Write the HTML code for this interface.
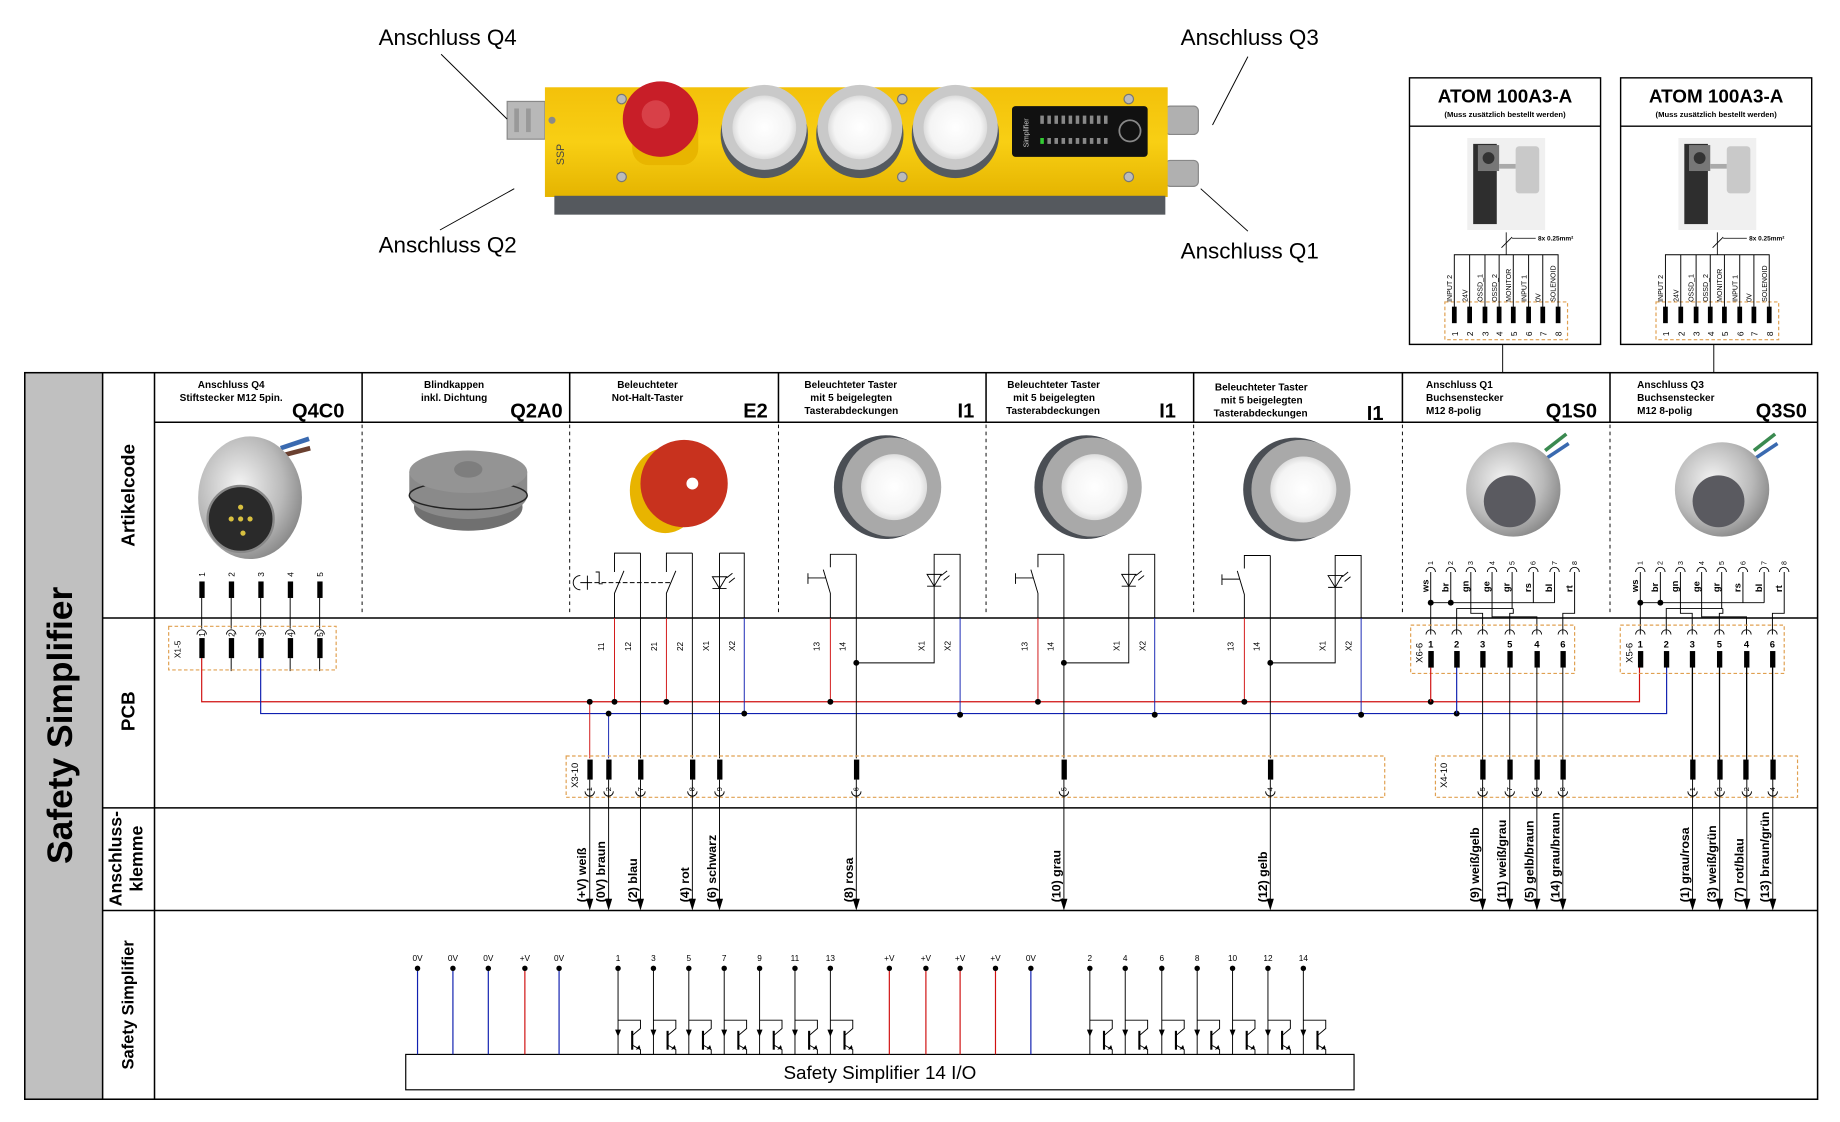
<!DOCTYPE html>
<html><head><meta charset="utf-8"><style>
html,body{margin:0;padding:0;background:#fff;}
svg{display:block;}
text{font-family:"Liberation Sans",sans-serif;}
.b{font-weight:bold;}
</style></head><body>
<svg width="1840" height="1122" viewBox="0 0 1560 951.3" preserveAspectRatio="none" xmlns="http://www.w3.org/2000/svg">
<defs>
<linearGradient id="yg" x1="0" y1="0" x2="0" y2="1"><stop offset="0" stop-color="#f3c10a"/><stop offset="0.5" stop-color="#f8cf14"/><stop offset="1" stop-color="#e5b400"/></linearGradient>
<radialGradient id="sil" cx="0.4" cy="0.4" r="0.7"><stop offset="0" stop-color="#f4f4f4"/><stop offset="0.6" stop-color="#b9b9b9"/><stop offset="1" stop-color="#7d7d7d"/></radialGradient>
<radialGradient id="wh" cx="0.5" cy="0.5" r="0.5"><stop offset="0" stop-color="#fff"/><stop offset="0.8" stop-color="#f4f4f4"/><stop offset="1" stop-color="#dcdcdc"/></radialGradient>
</defs>
<rect width="1560" height="951.3" fill="#fff"/>

<!-- ===== TOP DEVICE ===== -->
<g>
<rect x="430" y="86" width="32" height="32" fill="#b8b8b8" stroke="#888" stroke-width="1"/>
<rect x="436" y="92" width="4" height="20" fill="#999"/><rect x="446" y="92" width="4" height="20" fill="#999"/>
<rect x="988" y="90" width="28" height="24" rx="4" fill="#b0b0b0" stroke="#888"/>
<rect x="988" y="136" width="28" height="22" rx="4" fill="#b0b0b0" stroke="#888"/>
<rect x="462" y="74" width="528" height="93" fill="url(#yg)"/>
<rect x="470" y="166" width="518" height="16" fill="#55595e"/>
<circle cx="468" cy="102" r="3" fill="#8a8a8a"/>
<text x="478" y="140" font-size="9" fill="#444" transform="rotate(-90 478 140)">SSP</text>
<circle cx="527" cy="84" r="4" fill="#bbb" stroke="#777"/><circle cx="527" cy="150" r="4" fill="#bbb" stroke="#777"/>
<circle cx="765" cy="84" r="4" fill="#bbb" stroke="#777"/><circle cx="765" cy="150" r="4" fill="#bbb" stroke="#777"/>
<circle cx="957" cy="84" r="4" fill="#bbb" stroke="#777"/><circle cx="957" cy="150" r="4" fill="#bbb" stroke="#777"/>
<rect x="536" y="96" width="56" height="44" rx="14" fill="#e8b500"/>
<circle cx="560" cy="101" r="32" fill="#c81e28"/>
<circle cx="556" cy="97" r="12" fill="#d84048"/>
<g>
<circle cx="648" cy="114" r="37" fill="#555a60"/><circle cx="648" cy="108" r="36" fill="#c9c9c9"/><circle cx="648" cy="108" r="27" fill="url(#wh)"/>
<circle cx="729" cy="114" r="37" fill="#555a60"/><circle cx="729" cy="108" r="36" fill="#c9c9c9"/><circle cx="729" cy="108" r="27" fill="url(#wh)"/>
<circle cx="810" cy="114" r="37" fill="#555a60"/><circle cx="810" cy="108" r="36" fill="#c9c9c9"/><circle cx="810" cy="108" r="27" fill="url(#wh)"/>
</g>
<rect x="858" y="90" width="115" height="43" rx="3" fill="#111"/>
<g fill="#888">
<rect x="882" y="98" width="3" height="7"/><rect x="888" y="98" width="3" height="7"/><rect x="894" y="98" width="3" height="7"/><rect x="900" y="98" width="3" height="7"/><rect x="906" y="98" width="3" height="7"/><rect x="912" y="98" width="3" height="7"/><rect x="918" y="98" width="3" height="7"/><rect x="924" y="98" width="3" height="7"/><rect x="930" y="98" width="3" height="7"/><rect x="936" y="98" width="3" height="7"/>
<rect x="882" y="117" width="3" height="5" fill="#3c3"/><rect x="888" y="117" width="3" height="5"/><rect x="894" y="117" width="3" height="5"/><rect x="900" y="117" width="3" height="5"/><rect x="906" y="117" width="3" height="5"/><rect x="912" y="117" width="3" height="5"/><rect x="918" y="117" width="3" height="5"/><rect x="924" y="117" width="3" height="5"/><rect x="930" y="117" width="3" height="5"/><rect x="936" y="117" width="3" height="5"/>
</g>
<circle cx="958" cy="111" r="9" fill="none" stroke="#888" stroke-width="1.5"/>
<text x="872" y="125" font-size="6" fill="#ccc" transform="rotate(-90 872 125)">Simplifier</text>
</g>
<text x="321" y="38" font-size="19">Anschluss Q4</text>
<text x="321" y="214" font-size="19">Anschluss Q2</text>
<text x="1001" y="38" font-size="19">Anschluss Q3</text>
<text x="1001" y="219" font-size="19">Anschluss Q1</text>
<g stroke="#000" stroke-width="0.8">
<line x1="374" y1="46" x2="430" y2="101"/>
<line x1="373" y1="195" x2="436" y2="160"/>
<line x1="1058" y1="48" x2="1028" y2="106"/>
<line x1="1058" y1="196" x2="1018" y2="160"/>
</g>

<!-- ===== ATOM BOXES ===== -->
<g transform="translate(-5,0)">
<g id="atom1">
<rect x="1200" y="66" width="162" height="226" fill="#fff" stroke="#000" stroke-width="1.2"/>
<line x1="1200" y1="107" x2="1362" y2="107" stroke="#000" stroke-width="1.2"/>
<text x="1281" y="87" font-size="16" class="b" text-anchor="middle">ATOM 100A3-A</text>
<text x="1281" y="99" font-size="6.5" class="b" text-anchor="middle">(Muss zusätzlich bestellt werden)</text>
<rect x="1249" y="117" width="66" height="78" fill="#f0f0f0"/>
<rect x="1254" y="122" width="20" height="68" fill="#2e2e2e"/><rect x="1258" y="123" width="18" height="22" fill="#777"/><circle cx="1267" cy="134" r="5" fill="#333"/>
<rect x="1290" y="124" width="20" height="40" rx="3" fill="#c9c9c9"/><rect x="1276" y="139" width="14" height="4" fill="#aaa"/>
<line x1="1278" y1="210" x2="1287" y2="201" stroke="#000" stroke-width="0.7"/>
<line x1="1282" y1="197" x2="1282" y2="216" stroke="#000" stroke-width="0.7"/>
<line x1="1287" y1="202" x2="1307" y2="202" stroke="#000" stroke-width="0.7"/>
<text x="1309" y="204" font-size="5.5" class="b">8x 0.25mm²</text>
<rect x="1230" y="256" width="104" height="32" fill="none" stroke="#e0a050" stroke-width="1" stroke-dasharray="3,2"/>
<polyline points="1238,262 1238,216 1326,216 1326,262" fill="none" stroke="#000" stroke-width="0.8"/>
<g stroke="#000" stroke-width="0.8">
<line x1="1251" y1="216" x2="1251" y2="262"/><line x1="1264" y1="216" x2="1264" y2="262"/><line x1="1276" y1="216" x2="1276" y2="262"/><line x1="1288" y1="216" x2="1288" y2="262"/><line x1="1301" y1="216" x2="1301" y2="262"/><line x1="1313" y1="216" x2="1313" y2="262"/>
</g>
<g fill="#000"><rect x="1236" y="260" width="4" height="14"/><rect x="1249" y="260" width="4" height="14"/><rect x="1262" y="260" width="4" height="14"/><rect x="1274" y="260" width="4" height="14"/><rect x="1286" y="260" width="4" height="14"/><rect x="1299" y="260" width="4" height="14"/><rect x="1311" y="260" width="4" height="14"/><rect x="1324" y="260" width="4" height="14"/></g>
<g font-size="6">
<text transform="translate(1236,256) rotate(-90)">INPUT 2</text><text transform="translate(1249,256) rotate(-90)">24V</text><text transform="translate(1262,256) rotate(-90)">OSSD_1</text><text transform="translate(1274,256) rotate(-90)">OSSD_2</text><text transform="translate(1286,256) rotate(-90)">MONITOR</text><text transform="translate(1299,256) rotate(-90)">INPUT 1</text><text transform="translate(1311,256) rotate(-90)">0V</text><text transform="translate(1324,256) rotate(-90)">SOLENOID</text>
</g>
<g font-size="7"><text transform="translate(1241,285) rotate(-90)">1</text><text transform="translate(1254,285) rotate(-90)">2</text><text transform="translate(1267,285) rotate(-90)">3</text><text transform="translate(1279,285) rotate(-90)">4</text><text transform="translate(1291,285) rotate(-90)">5</text><text transform="translate(1304,285) rotate(-90)">6</text><text transform="translate(1316,285) rotate(-90)">7</text><text transform="translate(1329,285) rotate(-90)">8</text></g>
<line x1="1279" y1="292" x2="1279" y2="316" stroke="#000" stroke-width="0.8"/>
</g>
<use href="#atom1" x="179" y="0"/>
</g>

<!-- ===== MAIN FRAME ===== -->
<rect x="21" y="316" width="66" height="616" fill="#c0c0c0"/>
<rect x="21" y="316" width="1520" height="616" fill="none" stroke="#000" stroke-width="1.3"/>
<g stroke="#000" stroke-width="1.3">
<line x1="87" y1="316" x2="87" y2="932"/>
<line x1="131" y1="316" x2="131" y2="932"/>
<line x1="131" y1="358" x2="1541" y2="358"/>
<line x1="87" y1="524" x2="1541" y2="524"/>
<line x1="87" y1="685" x2="1541" y2="685"/>
<line x1="87" y1="772" x2="1541" y2="772"/>
<line x1="307" y1="316" x2="307" y2="358"/><line x1="483" y1="316" x2="483" y2="358"/><line x1="660" y1="316" x2="660" y2="358"/><line x1="836" y1="316" x2="836" y2="358"/><line x1="1012" y1="316" x2="1012" y2="358"/><line x1="1189" y1="316" x2="1189" y2="358"/><line x1="1365" y1="316" x2="1365" y2="358"/>
</g>
<g stroke="#000" stroke-width="0.8" stroke-dasharray="3,3">
<line x1="307" y1="360" x2="307" y2="522"/><line x1="483" y1="360" x2="483" y2="522"/><line x1="660" y1="360" x2="660" y2="522"/><line x1="836" y1="360" x2="836" y2="522"/><line x1="1012" y1="360" x2="1012" y2="522"/><line x1="1189" y1="360" x2="1189" y2="522"/><line x1="1365" y1="360" x2="1365" y2="522"/>
</g>
<text transform="translate(61,615) rotate(-90)" font-size="30" class="b" text-anchor="middle">Safety Simplifier</text>
<text transform="translate(114,420) rotate(-90)" font-size="16" class="b" text-anchor="middle">Artikelcode</text>
<text transform="translate(114,603) rotate(-90)" font-size="16" class="b" text-anchor="middle">PCB</text>
<text transform="translate(103,728) rotate(-90)" font-size="15" class="b" text-anchor="middle">Anschluss-</text>
<text transform="translate(121,728) rotate(-90)" font-size="15" class="b" text-anchor="middle">klemme</text>
<text transform="translate(113,852) rotate(-90)" font-size="14" class="b" text-anchor="middle">Safety Simplifier</text>

<!-- headers -->
<g font-size="8.5" class="b">
<text x="196" y="329" text-anchor="middle">Anschluss Q4</text>
<text x="196" y="340" text-anchor="middle">Stiftstecker M12 5pin.</text>
<text x="385" y="329" text-anchor="middle">Blindkappen</text>
<text x="385" y="340" text-anchor="middle">inkl. Dichtung</text>
<text x="549" y="329" text-anchor="middle">Beleuchteter</text>
<text x="549" y="340" text-anchor="middle">Not-Halt-Taster</text>
<text x="682" y="329">Beleuchteter Taster</text><text x="687" y="340">mit 5 beigelegten</text><text x="682" y="351">Tasterabdeckungen</text>
<text x="854" y="329">Beleuchteter Taster</text><text x="859" y="340">mit 5 beigelegten</text><text x="853" y="351">Tasterabdeckungen</text>
<text x="1030" y="331">Beleuchteter Taster</text><text x="1035" y="342">mit 5 beigelegten</text><text x="1029" y="353">Tasterabdeckungen</text>
<text x="1209" y="329">Anschluss Q1</text><text x="1209" y="340">Buchsenstecker</text><text x="1209" y="351">M12 8-polig</text>
<text x="1388" y="329">Anschluss Q3</text><text x="1388" y="340">Buchsenstecker</text><text x="1388" y="351">M12 8-polig</text>
</g>
<g font-size="17" class="b" text-anchor="end">
<text x="292" y="354">Q4C0</text><text x="477" y="354">Q2A0</text><text x="651" y="354">E2</text>
<text x="826" y="354">I1</text><text x="997" y="354">I1</text><text x="1173" y="356">I1</text>
<text x="1354" y="354">Q1S0</text><text x="1532" y="354">Q3S0</text>
</g>

<!-- article images -->
<g>
<path d="M238,380 L262,372" stroke="#3a6ab0" stroke-width="4"/><path d="M240,386 L263,380" stroke="#6a4030" stroke-width="4"/>
<ellipse cx="212" cy="422" rx="44" ry="52" fill="url(#sil)"/>
<circle cx="204" cy="440" r="28" fill="#2a2a2a" stroke="#888" stroke-width="2"/>
<g fill="#d8c040"><circle cx="204" cy="430" r="2.2"/><circle cx="196" cy="440" r="2.2"/><circle cx="204" cy="440" r="2.2"/><circle cx="212" cy="440" r="2.2"/><circle cx="206" cy="452" r="2.2"/></g>
</g>
<g>
<ellipse cx="397" cy="430" rx="46" ry="20" fill="#707070"/>
<ellipse cx="397" cy="420" rx="50" ry="20" fill="#8a8a8a"/>
<rect x="347" y="400" width="100" height="20" fill="#8a8a8a"/>
<ellipse cx="397" cy="420" rx="50" ry="12" fill="none" stroke="#222" stroke-width="1.2"/>
<ellipse cx="397" cy="400" rx="50" ry="18" fill="#949494"/>
<ellipse cx="397" cy="398" rx="12" ry="7" fill="#7e7e7e"/>
</g>
<g>
<ellipse cx="564" cy="416" rx="30" ry="36" fill="#e8b400"/>
<circle cx="580" cy="410" r="37" fill="#c8321e"/>
<circle cx="587" cy="410" r="5" fill="#fff"/>
</g>
<g>
<circle cx="751" cy="413" r="44" fill="#4a4e54"/><circle cx="756" cy="413" r="42" fill="#a9a9a9"/><circle cx="758" cy="413" r="28" fill="url(#wh)"/>
<circle cx="921" cy="413" r="44" fill="#4a4e54"/><circle cx="926" cy="413" r="42" fill="#a9a9a9"/><circle cx="928" cy="413" r="28" fill="url(#wh)"/>
<circle cx="1098" cy="415" r="44" fill="#4a4e54"/><circle cx="1103" cy="415" r="42" fill="#a9a9a9"/><circle cx="1105" cy="415" r="28" fill="url(#wh)"/>
</g>
<g>
<path d="M1310,382 L1328,368" stroke="#3a8a50" stroke-width="3"/><path d="M1312,388 L1330,376" stroke="#3a6ab0" stroke-width="3"/>
<circle cx="1283" cy="415" r="40" fill="url(#sil)"/><circle cx="1280" cy="425" r="22" fill="#5a5a60"/>
<path d="M1487,382 L1505,368" stroke="#3a8a50" stroke-width="3"/><path d="M1489,388 L1507,376" stroke="#3a6ab0" stroke-width="3"/>
<circle cx="1460" cy="415" r="40" fill="url(#sil)"/><circle cx="1457" cy="425" r="22" fill="#5a5a60"/>
</g>

<!-- ===== COLUMN 1 pins ===== -->
<g stroke="#000" stroke-width="0.8" fill="none">
<line x1="171" y1="507" x2="171" y2="533"/><line x1="196" y1="507" x2="196" y2="533"/><line x1="221" y1="507" x2="221" y2="533"/><line x1="246" y1="507" x2="246" y2="533"/><line x1="271" y1="507" x2="271" y2="533"/>
<line x1="196" y1="558" x2="196" y2="569"/><line x1="246" y1="558" x2="246" y2="569"/><line x1="271" y1="558" x2="271" y2="569"/>
<path d="M167,538 A4,4 0 0 1 175,538 M192,538 A4,4 0 0 1 200,538 M217,538 A4,4 0 0 1 225,538 M242,538 A4,4 0 0 1 250,538 M267,538 A4,4 0 0 1 275,538"/>
</g>
<g fill="#000"><rect x="169" y="493" width="4.5" height="14"/><rect x="194" y="493" width="4.5" height="14"/><rect x="219" y="493" width="4.5" height="14"/><rect x="244" y="493" width="4.5" height="14"/><rect x="269" y="493" width="4.5" height="14"/>
<rect x="169" y="541" width="4.5" height="17"/><rect x="194" y="541" width="4.5" height="17"/><rect x="219" y="541" width="4.5" height="17"/><rect x="244" y="541" width="4.5" height="17"/><rect x="269" y="541" width="4.5" height="17"/></g>
<g font-size="7"><text transform="translate(174,489) rotate(-90)">1</text><text transform="translate(199,489) rotate(-90)">2</text><text transform="translate(224,489) rotate(-90)">3</text><text transform="translate(249,489) rotate(-90)">4</text><text transform="translate(274,489) rotate(-90)">5</text>
<text transform="translate(174,540) rotate(-90)">1</text><text transform="translate(199,540) rotate(-90)">2</text><text transform="translate(224,540) rotate(-90)">3</text><text transform="translate(249,540) rotate(-90)">4</text><text transform="translate(274,540) rotate(-90)">5</text>
<text transform="translate(153,558) rotate(-90)">X1-5</text></g>
<rect x="143" y="531" width="142" height="37" fill="none" stroke="#e0a050" stroke-dasharray="3,2"/>

<!-- red/blue buses -->
<path d="M171,558 V595 H1390 V565" fill="none" stroke="#d01010" stroke-width="1"/>
<path d="M221,558 V605 H1413 V565" fill="none" stroke="#1020b0" stroke-width="1"/>

<!-- ===== E2 column ===== -->
<g fill="none" stroke-width="0.8">
<path d="M543,469 H521 V485 M529,484 L521,503 V524" stroke="#000"/>
<path d="M587,469 H565 V485 M573,484 L565,503 V524" stroke="#000"/>
<path d="M543,469 V643 M587,469 V643" stroke="#000"/>
<path d="M610,469 H631 V524 M610,469 V643" stroke="#000"/>
<path d="M521,524 V595 M565,524 V595 M500,595 V643" stroke="#d01010"/>
<path d="M631,524 V605 M516,605 V643" stroke="#1020b0"/>
<path d="M498,494 H570" stroke="#000" stroke-dasharray="4,2"/>
<path d="M492,488 A6,6 0 0 0 492,500 M492,494 H498 M498,488 V500" stroke="#000"/>
<path d="M505,485 h3 v10 h3" stroke="#000"/>
<path d="M604,489 H616 L610,499 Z M604,499 H616 M616,490 l5,-4 M618,494 l5,-4" stroke="#000"/>
</g>
<g font-size="7"><text transform="translate(512,552) rotate(-90)">11</text><text transform="translate(535,552) rotate(-90)">12</text><text transform="translate(557,552) rotate(-90)">21</text><text transform="translate(579,552) rotate(-90)">22</text><text transform="translate(601,552) rotate(-90)">X1</text><text transform="translate(623,552) rotate(-90)">X2</text></g>

<!-- ===== I1 columns ===== -->
<g fill="none" stroke-width="0.8">
<path d="M726,470 H704 V481 M698,483 L704,503 V524 M685,486 V495 M685,490 H700" stroke="#000"/>
<path d="M726,470 V643 M726,562 H792 V470 H814 V524" stroke="#000"/>
<path d="M786,487 H798 L792,497 Z M786,497 H798 M798,488 l5,-4 M800,492 l5,-4" stroke="#000"/>
<path d="M704,524 V595" stroke="#d01010"/><path d="M814,524 V606" stroke="#1020b0"/>

<path d="M902,470 H880 V481 M874,483 L880,503 V524 M861,486 V495 M861,490 H876" stroke="#000"/>
<path d="M902,470 V643 M902,562 H957 V470 H979 V524" stroke="#000"/>
<path d="M951,487 H963 L957,497 Z M951,497 H963 M963,488 l5,-4 M965,492 l5,-4" stroke="#000"/>
<path d="M880,524 V595" stroke="#d01010"/><path d="M979,524 V606" stroke="#1020b0"/>

<path d="M1077,471 H1055 V482 M1049,484 L1055,504 V524 M1036,487 V496 M1036,491 H1051" stroke="#000"/>
<path d="M1077,471 V643 M1077,562 H1132 V471 H1154 V524" stroke="#000"/>
<path d="M1126,488 H1138 L1132,498 Z M1126,498 H1138 M1138,489 l5,-4 M1140,493 l5,-4" stroke="#000"/>
<path d="M1055,524 V595" stroke="#d01010"/><path d="M1154,524 V606" stroke="#1020b0"/>
</g>
<g font-size="7">
<text transform="translate(695,552) rotate(-90)">13</text><text transform="translate(717,552) rotate(-90)">14</text><text transform="translate(784,552) rotate(-90)">X1</text><text transform="translate(806,552) rotate(-90)">X2</text>
<text transform="translate(871,552) rotate(-90)">13</text><text transform="translate(893,552) rotate(-90)">14</text><text transform="translate(949,552) rotate(-90)">X1</text><text transform="translate(971,552) rotate(-90)">X2</text>
<text transform="translate(1046,552) rotate(-90)">13</text><text transform="translate(1068,552) rotate(-90)">14</text><text transform="translate(1124,552) rotate(-90)">X1</text><text transform="translate(1146,552) rotate(-90)">X2</text>
</g>

<!-- ===== Right M12 female columns ===== -->
<g id="m12">
<g fill="none" stroke="#000" stroke-width="0.8">
<path d="M1209,485 A4,4 0 0 1 1217,485 M1226,485 A4,4 0 0 1 1234,485 M1243,485 A4,4 0 0 1 1251,485 M1261,485 A4,4 0 0 1 1269,485 M1278,485 A4,4 0 0 1 1286,485 M1296,485 A4,4 0 0 1 1304,485 M1314,485 A4,4 0 0 1 1322,485 M1331,485 A4,4 0 0 1 1339,485"/>
<path d="M1213,485 V538"/>
<path d="M1230,485 V511 M1213,511 H1318 M1300,485 V511 M1318,485 V511"/>
<path d="M1247,485 V520 H1257 V538"/>
<path d="M1235,538 V516 H1283"/>
<path d="M1265,485 V523 H1303 V538"/>
<path d="M1282,485 V516 M1283,516 V520 H1280 V538"/>
<path d="M1335,485 V520 H1325 V538"/>
<path d="M1209,538 A4,4 0 0 1 1217,538 M1231,538 A4,4 0 0 1 1239,538 M1253,538 A4,4 0 0 1 1261,538 M1276,538 A4,4 0 0 1 1284,538 M1299,538 A4,4 0 0 1 1307,538 M1321,538 A4,4 0 0 1 1329,538"/>
</g>
<g fill="#000"><circle cx="1213" cy="511" r="2.5"/><circle cx="1230" cy="511" r="2.5"/>
<rect x="1211" y="552" width="4.5" height="14"/><rect x="1233" y="552" width="4.5" height="14"/><rect x="1255" y="552" width="4.5" height="14"/><rect x="1278" y="552" width="4.5" height="14"/><rect x="1301" y="552" width="4.5" height="14"/><rect x="1323" y="552" width="4.5" height="14"/></g>
<g font-size="6"><text transform="translate(1215,479) rotate(-90)">1</text><text transform="translate(1232,479) rotate(-90)">2</text><text transform="translate(1249,479) rotate(-90)">3</text><text transform="translate(1267,479) rotate(-90)">4</text><text transform="translate(1284,479) rotate(-90)">5</text><text transform="translate(1302,479) rotate(-90)">6</text><text transform="translate(1320,479) rotate(-90)">7</text><text transform="translate(1337,479) rotate(-90)">8</text></g>
<g font-size="8" class="b"><text transform="translate(1211,502) rotate(-90)">ws</text><text transform="translate(1228,502) rotate(-90)">br</text><text transform="translate(1245,502) rotate(-90)">gn</text><text transform="translate(1263,502) rotate(-90)">ge</text><text transform="translate(1280,502) rotate(-90)">gr</text><text transform="translate(1298,502) rotate(-90)">rs</text><text transform="translate(1316,502) rotate(-90)">bl</text><text transform="translate(1333,502) rotate(-90)">rt</text></g>
<g font-size="8" class="b" text-anchor="middle"><text x="1213" y="549">1</text><text x="1235" y="549">2</text><text x="1257" y="549">3</text><text x="1280" y="549">5</text><text x="1303" y="549">4</text><text x="1325" y="549">6</text></g>
<rect x="1196" y="530" width="139" height="41" fill="none" stroke="#e0a050" stroke-dasharray="3,2"/>
<line x1="1257" y1="566" x2="1257" y2="644" stroke="#000" stroke-width="0.8"/><line x1="1280" y1="566" x2="1280" y2="644" stroke="#000" stroke-width="0.8"/><line x1="1303" y1="566" x2="1303" y2="644" stroke="#000" stroke-width="0.8"/><line x1="1325" y1="566" x2="1325" y2="644" stroke="#000" stroke-width="0.8"/>
</g>
<text transform="translate(1206,562) rotate(-90)" font-size="8">X6-6</text>
<use href="#m12" x="177.7" y="0"/>
<text transform="translate(1384,562) rotate(-90)" font-size="8">X5-6</text>
<circle cx="1213" cy="595" r="2.5"/><circle cx="1235" cy="605" r="2.5"/>
<path d="M1213,566 V595" stroke="#d01010" stroke-width="1"/>
<path d="M1235,566 V605" stroke="#1020b0" stroke-width="1"/>
<rect x="1211" y="552" width="4.5" height="14"/><rect x="1233" y="552" width="4.5" height="14"/>

<!-- junction dots -->
<g fill="#000">
<circle cx="500" cy="595" r="2.5"/><circle cx="521" cy="595" r="2.5"/><circle cx="565" cy="595" r="2.5"/><circle cx="516" cy="605" r="2.5"/><circle cx="631" cy="605" r="2.5"/>
<circle cx="726" cy="562" r="2.5"/><circle cx="704" cy="595" r="2.5"/><circle cx="814" cy="606" r="2.5"/>
<circle cx="902" cy="562" r="2.5"/><circle cx="880" cy="595" r="2.5"/><circle cx="979" cy="606" r="2.5"/>
<circle cx="1077" cy="562" r="2.5"/><circle cx="1055" cy="595" r="2.5"/><circle cx="1154" cy="606" r="2.5"/>
</g>

<!-- X3 / X4 terminal strips -->
<rect x="480" y="641" width="694" height="35" fill="none" stroke="#e0a050" stroke-dasharray="3,2"/>
<rect x="1217" y="641" width="307" height="35" fill="none" stroke="#e0a050" stroke-dasharray="3,2"/>
<text transform="translate(490,668) rotate(-90)" font-size="8">X3-10</text>
<text transform="translate(1227,668) rotate(-90)" font-size="8">X4-10</text>
<g fill="#000">
<rect x="498" y="644" width="4.5" height="17"/><rect x="514" y="644" width="4.5" height="17"/><rect x="541" y="644" width="4.5" height="17"/><rect x="585" y="644" width="4.5" height="17"/><rect x="608" y="644" width="4.5" height="17"/>
<rect x="724" y="644" width="4.5" height="17"/><rect x="900" y="644" width="4.5" height="17"/><rect x="1075" y="644" width="4.5" height="17"/>
<rect x="1255" y="644" width="4.5" height="17"/><rect x="1278" y="644" width="4.5" height="17"/><rect x="1301" y="644" width="4.5" height="17"/><rect x="1323" y="644" width="4.5" height="17"/>
<rect x="1433" y="644" width="4.5" height="17"/><rect x="1456" y="644" width="4.5" height="17"/><rect x="1478" y="644" width="4.5" height="17"/><rect x="1501" y="644" width="4.5" height="17"/>
</g>
<g fill="none" stroke="#000" stroke-width="0.8">
<path d="M500,661V768 M516,661V768 M543,661V768 M587,661V768 M610,661V768 M726,661V768 M902,661V768 M1077,661V768 M1257,661V768 M1280,661V768 M1303,661V768 M1325,661V768 M1435,566V768 M1458,566V768 M1481,566V768 M1503,566V768"/>
<path d="M496,671 A4,4 0 0 0 504,671 M512,671 A4,4 0 0 0 520,671 M539,671 A4,4 0 0 0 547,671 M583,671 A4,4 0 0 0 591,671 M606,671 A4,4 0 0 0 614,671 M722,671 A4,4 0 0 0 730,671 M898,671 A4,4 0 0 0 906,671 M1073,671 A4,4 0 0 0 1081,671 M1253,671 A4,4 0 0 0 1261,671 M1276,671 A4,4 0 0 0 1284,671 M1299,671 A4,4 0 0 0 1307,671 M1321,671 A4,4 0 0 0 1329,671 M1431,671 A4,4 0 0 0 1439,671 M1454,671 A4,4 0 0 0 1462,671 M1477,671 A4,4 0 0 0 1485,671 M1499,671 A4,4 0 0 0 1507,671"/>
</g>
<g font-size="6.5">
<text transform="translate(502,671) rotate(-90)">1</text><text transform="translate(518,671) rotate(-90)">2</text><text transform="translate(545,671) rotate(-90)">7</text><text transform="translate(589,671) rotate(-90)">8</text><text transform="translate(612,671) rotate(-90)">9</text>
<text transform="translate(728,671) rotate(-90)">6</text><text transform="translate(904,671) rotate(-90)">5</text><text transform="translate(1079,671) rotate(-90)">4</text>
<text transform="translate(1259,671) rotate(-90)">5</text><text transform="translate(1282,671) rotate(-90)">7</text><text transform="translate(1305,671) rotate(-90)">6</text><text transform="translate(1327,671) rotate(-90)">8</text>
<text transform="translate(1437,671) rotate(-90)">1</text><text transform="translate(1460,671) rotate(-90)">3</text><text transform="translate(1483,671) rotate(-90)">2</text><text transform="translate(1505,671) rotate(-90)">4</text>
</g>

<!-- arrows + wire labels -->
<g fill="#000">
<path d="M497,762h6l-3,10z M513,762h6l-3,10z M540,762h6l-3,10z M584,762h6l-3,10z M607,762h6l-3,10z M723,762h6l-3,10z M899,762h6l-3,10z M1074,762h6l-3,10z M1254,762h6l-3,10z M1277,762h6l-3,10z M1300,762h6l-3,10z M1322,762h6l-3,10z M1432,762h6l-3,10z M1455,762h6l-3,10z M1478,762h6l-3,10z M1500,762h6l-3,10z"/>
</g>
<g font-size="10.5" class="b">
<text transform="translate(497,765) rotate(-90)">(+V) weiß</text>
<text transform="translate(513,765) rotate(-90)">(0V) braun</text>
<text transform="translate(540,765) rotate(-90)">(2) blau</text>
<text transform="translate(584,765) rotate(-90)">(4) rot</text>
<text transform="translate(607,765) rotate(-90)">(6) schwarz</text>
<text transform="translate(723,765) rotate(-90)">(8) rosa</text>
<text transform="translate(899,765) rotate(-90)">(10) grau</text>
<text transform="translate(1074,765) rotate(-90)">(12) gelb</text>
<text transform="translate(1254,765) rotate(-90)">(9) weiß/gelb</text>
<text transform="translate(1277,765) rotate(-90)">(11) weiß/grau</text>
<text transform="translate(1300,765) rotate(-90)">(5) gelb/braun</text>
<text transform="translate(1322,765) rotate(-90)">(14) grau/braun</text>
<text transform="translate(1432,765) rotate(-90)">(1)  grau/rosa</text>
<text transform="translate(1455,765) rotate(-90)">(3) weiß/grün</text>
<text transform="translate(1478,765) rotate(-90)">(7) rot/blau</text>
<text transform="translate(1500,765) rotate(-90)">(13) braun/grün</text>
</g>

<!-- ===== Safety Simplifier 14 I/O ===== -->
<rect x="344" y="894" width="804" height="30" fill="#fff" stroke="#000" stroke-width="1"/>
<text x="746" y="915" font-size="16" text-anchor="middle">Safety Simplifier 14 I/O</text>
<g font-size="7" text-anchor="middle">
<text x="354" y="815">0V</text><text x="384" y="815">0V</text><text x="414" y="815">0V</text><text x="445" y="815">+V</text><text x="474" y="815">0V</text>
<text x="524" y="815">1</text><text x="554" y="815">3</text><text x="584" y="815">5</text><text x="614" y="815">7</text><text x="644" y="815">9</text><text x="674" y="815">11</text><text x="704" y="815">13</text>
<text x="754" y="815">+V</text><text x="785" y="815">+V</text><text x="814" y="815">+V</text><text x="844" y="815">+V</text><text x="874" y="815">0V</text>
<text x="924" y="815">2</text><text x="954" y="815">4</text><text x="985" y="815">6</text><text x="1015" y="815">8</text><text x="1045" y="815">10</text><text x="1075" y="815">12</text><text x="1105" y="815">14</text>
</g>
<g stroke-width="1">
<path d="M354,821V894 M384,821V894 M414,821V894 M474,821V894 M874,821V894" stroke="#1020b0"/>
<path d="M445,821V894 M754,821V894 M785,821V894 M814,821V894 M844,821V894" stroke="#d01010"/>
</g>
<g fill="#000">
<circle cx="354" cy="821" r="2.3"/><circle cx="384" cy="821" r="2.3"/><circle cx="414" cy="821" r="2.3"/><circle cx="445" cy="821" r="2.3"/><circle cx="474" cy="821" r="2.3"/>
<circle cx="754" cy="821" r="2.3"/><circle cx="785" cy="821" r="2.3"/><circle cx="814" cy="821" r="2.3"/><circle cx="844" cy="821" r="2.3"/><circle cx="874" cy="821" r="2.3"/>
</g>
<g id="tr">
<circle cx="524" cy="821" r="2.3"/>
<path d="M524,821V894 M524,865H543V872 L536,878 M536,886 L543,890 V894" fill="none" stroke="#000" stroke-width="0.8"/>
<path d="M536,874V890" stroke="#000" stroke-width="1.8"/>
<path d="M521.5,873h5l-2.5,6z M539,890l4,-1 -1,-3z" fill="#000"/>
</g>
<use href="#tr" x="30"/><use href="#tr" x="60"/><use href="#tr" x="90"/><use href="#tr" x="120"/><use href="#tr" x="150"/><use href="#tr" x="180"/>
<use href="#tr" x="400"/><use href="#tr" x="430"/><use href="#tr" x="461"/><use href="#tr" x="491"/><use href="#tr" x="521"/><use href="#tr" x="551"/><use href="#tr" x="581"/>
</svg>
</body></html>
